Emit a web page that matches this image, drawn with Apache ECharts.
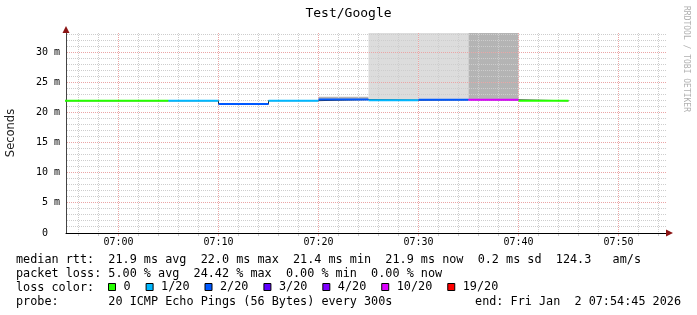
<!DOCTYPE html>
<html>
<head>
<meta charset="utf-8">
<script src="https://cdn.jsdelivr.net/npm/echarts@6/dist/echarts.min.js"></script>
<style>
html,body{margin:0;padding:0;background:#fff;}
#chart{width:697px;height:315px;}
</style>
</head>
<body>
<div id="chart"></div>
<script>
// ---------- data ----------
const titleText = 'Test/Google';
const yAxisTitle = 'Seconds';
const watermarkText = 'RRDTOOL / TOBI OETIKER';
const viewStart = '06:54:45';
const viewEnd = '07:54:45';
const xTickLabels = ['07:00', '07:10', '07:20', '07:30', '07:40', '07:50'];
const yTicksMs = [0, 5, 10, 15, 20, 25, 30];
const yMaxMs = 33.2;
const slotMinutes = 5;
const slotStart = ['06:50', '06:55', '07:00', '07:05', '07:10', '07:15', '07:20', '07:25', '07:30', '07:35', '07:40'];
const medianMs  = [21.95, 21.95, 21.95, 21.95, 21.4, 21.97, 22.15, 22.05, 22.12, 22.1, 21.95];
const lossOf20  = [0, 0, 0, 1, 2, 1, 2, 1, 2, 10, 0];
const smokeLowMs   = [null, null, null, null, null, null, 22.15, 22.05, 22.12, 22.1, null];
const smokeHighMs  = [null, null, null, null, null, null, 22.6, 40, 40, 40, null];
const smokeLayers  = [0, 0, 0, 0, 0, 0, 2, 1, 1, 2, 0];
const lossThresholds = [0, 1, 2, 3, 4, 10, 19];
const lossLabels = ['0', '1/20', '2/20', '3/20', '4/20', '10/20', '19/20'];
const statLines = [
  'median rtt:  21.9 ms avg  22.0 ms max  21.4 ms min  21.9 ms now  0.2 ms sd  124.3   am/s',
  'packet loss: 5.00 % avg  24.42 % max  0.00 % min  0.00 % now'
];
const lossColorLabel = 'loss color:';
const probeText = 'probe:       20 ICMP Echo Pings (56 Bytes) every 300s';
const endText = 'end: Fri Jan  2 07:54:45 2026';

// ---------- styles ----------
const lossColors = ['#26ff00', '#00b8ff', '#0059ff', '#5e00ff', '#7e00ff', '#dd00ff', '#ff0000'];
const MONO = '"DejaVu Sans Mono", "Liberation Mono", monospace';
const redGrid = '#eba5a5';
const grayGrid = '#cdcdcd';
const arrowColor = '#8b1414';
function smokeColor(layers) { return layers >= 2 ? '#b4b4b4' : '#dcdcdc'; }

// ---------- helpers ----------
function toMin(s) {
  const p = s.split(':').map(Number);
  return p[0] * 60 + p[1] + (p[2] || 0) / 60;
}
function fmtHHMM(v) {
  const h = Math.floor(v / 60), m = Math.round(v - h * 60);
  return String(h).padStart(2, '0') + ':' + String(m).padStart(2, '0');
}
function lossLevel(l) {
  let k = 0;
  lossThresholds.forEach((t, i) => { if (l >= t) k = i; });
  return k;
}
function crisp(v) { return Math.round(v - 0.5) + 0.5; }

const xMin = toMin(viewStart), xMax = toMin(viewEnd);
const majorX = xTickLabels.map(toMin);
// grid line list: [orientation (0 = vertical at x value, 1 = horizontal at y value), value, major(1)/minor(0)]
const gridLines = [];
for (let m = Math.ceil(xMin / 2) * 2; m < xMax; m += 2) gridLines.push([0, m, majorX.indexOf(m) >= 0 ? 1 : 0]);
for (let v = 1; v < yMaxMs; v++) gridLines.push([1, v, yTicksMs.indexOf(v) >= 0 ? 1 : 0]);

// median segments, one series per loss colour
const segSeries = lossLabels.map((name, k) => {
  const data = [];
  slotStart.forEach((s, i) => {
    if (lossLevel(lossOf20[i]) !== k) return;
    const a = toMin(s), b = a + slotMinutes;
    data.push([a, medianMs[i]], [b, medianMs[i]], [b, '-']);
  });
  return {
    type: 'line', name: name, color: lossColors[k], data: data,
    showSymbol: false, symbol: 'none', connectNulls: false,
    lineStyle: { width: 2, color: lossColors[k] }, z: 4, silent: true
  };
});

// dark step connector under the coloured segments
const stepData = slotStart.map((s, i) => [toMin(s), medianMs[i]]);
stepData.push([toMin(slotStart[slotStart.length - 1]) + slotMinutes, medianMs[medianMs.length - 1]]);

const smokeData = [];
slotStart.forEach((s, i) => {
  if (smokeLowMs[i] == null) return;
  const a = toMin(s);
  smokeData.push([a, a + slotMinutes, smokeLowMs[i], smokeHighMs[i], smokeLayers[i]]);
});

const chart = echarts.init(document.getElementById('chart'), null, { renderer: 'canvas' });
chart.setOption({
  animation: false,
  backgroundColor: '#ffffff',
  textStyle: { fontFamily: MONO },
  grid: { left: 66, top: 33, width: 600, height: 200, containLabel: false, outerBoundsMode: 'none' },
  xAxis: [
    {
      type: 'value', position: 'bottom', min: xMin, max: xMax,
      axisLine: { show: true, onZero: false, lineStyle: { color: '#000', width: 1 } },
      axisTick: { show: false, customValues: majorX },
      axisLabel: { customValues: majorX, formatter: fmtHHMM, fontFamily: MONO, fontSize: 10, color: '#000', margin: 4 },
      splitLine: { show: false }
    },
    {
      type: 'value', position: 'bottom', min: xMin, max: xMax,
      axisLine: { show: true, onZero: false, lineStyle: { color: arrowColor, width: 0 },
        symbol: ['none', 'triangle'], symbolSize: [7, 7], symbolOffset: [0, 3.5] },
      axisTick: { show: false }, axisLabel: { show: false }, splitLine: { show: false }
    }
  ],
  yAxis: [
    {
      type: 'value', position: 'left', min: 0, max: yMaxMs,
      name: yAxisTitle, nameLocation: 'middle', nameGap: 49, nameRotate: 90,
      nameTextStyle: { fontFamily: '"DejaVu Sans", sans-serif', fontSize: 11.5, color: '#222' },
      axisLine: { show: true, onZero: false, lineStyle: { color: '#444', width: 1 } },
      axisTick: { show: false, customValues: yTicksMs },
      axisLabel: { customValues: yTicksMs, fontFamily: MONO, fontSize: 10, color: '#000', margin: 6,
        formatter: v => (v === 0 ? '0  ' : v + ' m') },
      splitLine: { show: false }
    },
    {
      type: 'value', position: 'left', min: 0, max: yMaxMs,
      axisLine: { show: true, onZero: false, lineStyle: { color: arrowColor, width: 0 },
        symbol: ['none', 'triangle'], symbolSize: [7, 7], symbolOffset: [0, 3.5] },
      axisTick: { show: false }, axisLabel: { show: false }, splitLine: { show: false }
    }
  ],
  legend: {
    data: lossLabels.map(n => ({ name: n, icon: 'rect' })),
    left: 108, top: 281, padding: 0, itemWidth: 7, itemHeight: 7, itemGap: 15,
    selectedMode: false,
    itemStyle: { borderColor: '#000', borderWidth: 1 },
    textStyle: { fontFamily: MONO, fontSize: 11.8, color: '#000', padding: [0, 0, 0, 3] }
  },
  graphic: [
    { type: 'text', x: 348.5, y: 14, silent: true,
      style: { text: titleText, fontFamily: MONO, fontSize: 13, fill: '#000', align: 'center', verticalAlign: 'middle' } },
    { type: 'text', x: 686, y: 59, rotation: -Math.PI / 2, silent: true,
      style: { text: watermarkText, fontFamily: MONO, fontSize: 8, fill: '#b0b0b0', align: 'center', verticalAlign: 'middle' } },
    { type: 'text', x: 16, y: 259.5, silent: true,
      style: { text: statLines[0], fontFamily: MONO, fontSize: 11.8, fill: '#000', align: 'left', verticalAlign: 'middle' } },
    { type: 'text', x: 16, y: 273.5, silent: true,
      style: { text: statLines[1], fontFamily: MONO, fontSize: 11.8, fill: '#000', align: 'left', verticalAlign: 'middle' } },
    { type: 'text', x: 16, y: 287.5, silent: true,
      style: { text: lossColorLabel, fontFamily: MONO, fontSize: 11.8, fill: '#000', align: 'left', verticalAlign: 'middle' } },
    { type: 'text', x: 16, y: 301.5, silent: true,
      style: { text: probeText, fontFamily: MONO, fontSize: 11.8, fill: '#000', align: 'left', verticalAlign: 'middle' } },
    { type: 'text', x: 681, y: 301.5, silent: true,
      style: { text: endText, fontFamily: MONO, fontSize: 11.8, fill: '#000', align: 'right', verticalAlign: 'middle' } }
  ],
  series: [
    {
      type: 'custom', name: 'smoke', z: 1, silent: true, xAxisIndex: 0, yAxisIndex: 0,
      data: smokeData,
      encode: { x: [0, 1], y: [2, 3] },
      renderItem: function (params, api) {
        const p0 = api.coord([api.value(0), api.value(3)]);
        const p1 = api.coord([api.value(1), api.value(2)]);
        const cs = params.coordSys;
        const shape = echarts.graphic.clipRectByRect(
          { x: p0[0], y: p0[1], width: p1[0] - p0[0], height: p1[1] - p0[1] },
          { x: cs.x, y: cs.y, width: cs.width, height: cs.height });
        return shape && { type: 'rect', shape: shape, style: { fill: smokeColor(api.value(4)) } };
      }
    },
    {
      type: 'custom', name: 'grid-lines', z: 2, silent: true, xAxisIndex: 0, yAxisIndex: 0,
      data: gridLines, clip: false,
      renderItem: function (params, api) {
        const dir = api.value(0), v = api.value(1), major = api.value(2);
        const stroke = major ? redGrid : grayGrid;
        const cs = params.coordSys;
        if (dir === 0) {
          const x = crisp(api.coord([v, 0])[0]);
          return { type: 'group', children: [
            { type: 'line', shape: { x1: x, y1: cs.y, x2: x, y2: cs.y + cs.height },
              style: { stroke: stroke, lineWidth: 1, lineDash: [1, 1] } },
            { type: 'line', shape: { x1: x, y1: cs.y + cs.height + 1, x2: x, y2: cs.y + cs.height + 3 },
              style: { stroke: stroke, lineWidth: 1 } }
          ] };
        }
        const y = crisp(api.coord([xMin, v])[1]);
        return { type: 'line', shape: { x1: cs.x + 1, y1: y, x2: cs.x + cs.width, y2: y },
          style: { stroke: stroke, lineWidth: 1, lineDash: [1, 1] } };
      }
    },
    {
      type: 'line', name: 'median-step', data: stepData, step: 'end', xAxisIndex: 0, yAxisIndex: 0,
      showSymbol: false, symbol: 'none', silent: true, z: 3,
      lineStyle: { width: 1, color: '#222' }, color: '#222'
    }
  ].concat(segSeries)
});
</script>
</body>
</html>
